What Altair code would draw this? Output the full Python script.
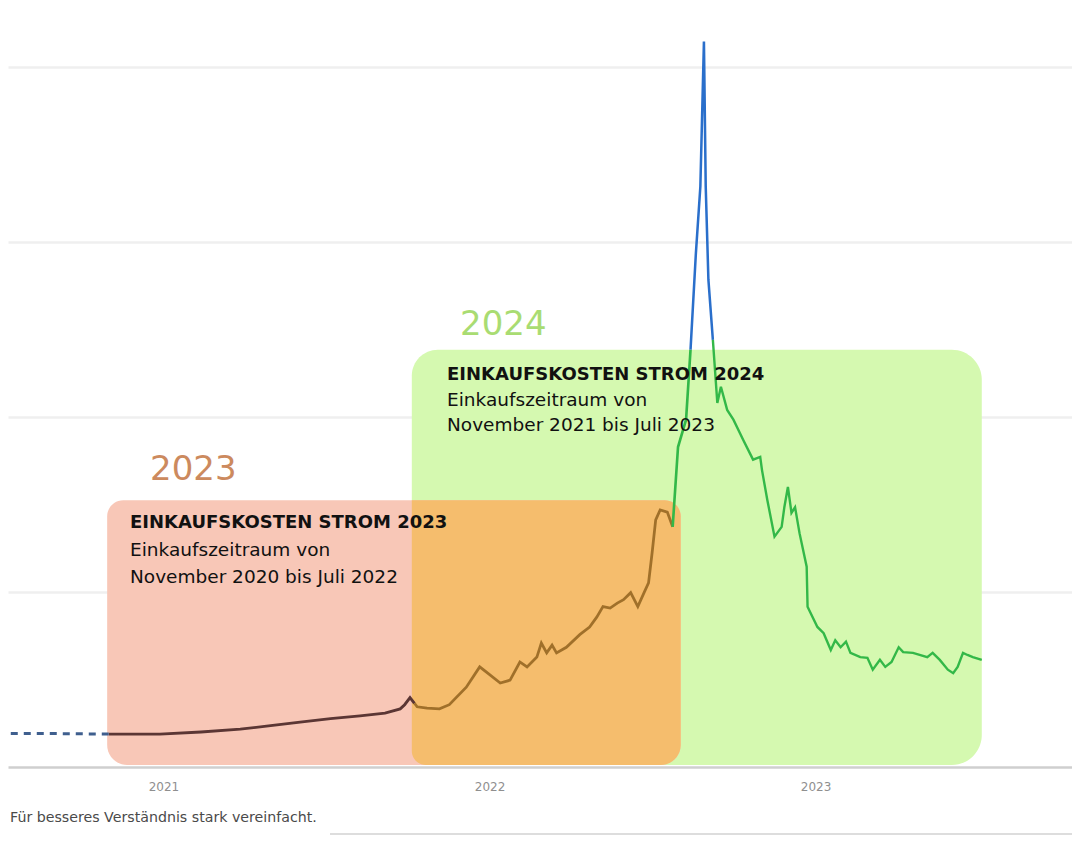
import altair as alt
import pandas as pd

# ---- line data (price, EUR/MWh) ----
vor_dates = ["2020-06-15", "2020-08-15", "2020-11-01"]
vor_values = [48, 48, 47]

s2023_dates = ["2020-12-28", "2021-02-12", "2021-03-28", "2021-05-01", "2021-06-03", "2021-07-07",
               "2021-08-09", "2021-09-06", "2021-09-23", "2021-09-28", "2021-10-04", "2021-10-09"]
s2023_values = [47, 50, 54, 59, 64, 69, 73, 77, 83, 89, 99, 91]

beide_dates = ["2021-10-12", "2021-10-23", "2021-11-06", "2021-11-17", "2021-12-06", "2021-12-21",
               "2021-12-30", "2022-01-13", "2022-01-24", "2022-02-04", "2022-02-12", "2022-02-23",
               "2022-02-28", "2022-03-06", "2022-03-12", "2022-03-17", "2022-03-28", "2022-04-12",
               "2022-04-23", "2022-05-01", "2022-05-08", "2022-05-16", "2022-05-24", "2022-05-31",
               "2022-06-08", "2022-06-16", "2022-06-23", "2022-06-28", "2022-07-02", "2022-07-06",
               "2022-07-11", "2022-07-19", "2022-07-25"]
beide_values = [86, 84, 83, 89, 114, 143, 134, 120, 124, 150, 143, 157, 177, 163, 174, 163, 171, 189,
                200, 214, 229, 227, 234, 239, 249, 229, 249, 263, 306, 353, 367, 364, 343]

s2024a_dates = ["2022-07-31", "2022-08-09", "2022-08-14"]
s2024a_values = [457, 496, 596]

spitze_dates = ["2022-08-20", "2022-08-25", "2022-08-29", "2022-08-31", "2022-09-03", "2022-09-08"]
spitze_values = [734, 829, 1036, 829, 696, 610]

s2024b_dates = ["2022-09-13", "2022-09-17", "2022-09-24", "2022-10-01", "2022-10-12", "2022-10-23",
                "2022-10-31", "2022-11-02", "2022-11-08", "2022-11-16", "2022-11-24", "2022-11-27",
                "2022-12-01", "2022-12-05", "2022-12-09", "2022-12-14", "2022-12-22", "2022-12-23",
                "2023-01-03", "2023-01-10", "2023-01-18", "2023-01-23", "2023-01-29", "2023-02-04",
                "2023-02-09", "2023-02-20", "2023-02-28", "2023-03-06", "2023-03-14", "2023-03-20",
                "2023-03-27", "2023-04-04", "2023-04-09", "2023-04-20", "2023-05-06", "2023-05-12",
                "2023-05-20", "2023-05-29", "2023-06-04", "2023-06-09", "2023-06-15", "2023-06-20",
                "2023-06-26", "2023-07-06"]
s2024b_values = [520, 543, 510, 496, 467, 439, 443, 424, 381, 329, 343, 371, 400, 363, 371, 334, 286,
                 229, 200, 191, 167, 181, 171, 179, 163, 157, 156, 139, 153, 143, 150, 171, 164, 163,
                 157, 163, 153, 139, 134, 143, 163, 160, 157, 153]

segment_names = ["vor", "2023", "beide", "2024a", "spitze", "2024b"]
segment_dates = [vor_dates, s2023_dates, beide_dates, s2024a_dates, spitze_dates, s2024b_dates]
segment_values = [vor_values, s2023_values, beide_values, s2024a_values, spitze_values, s2024b_values]
segment_colors = ["#3f5f8e", "#5b3634", "#a0702a", "#33b848", "#2a6fcb", "#33b848"]
segment_widths = [3, 2.4, 2.4, 2.4, 3.4, 2.4]

# ---- purchase-period boxes ----
box_names = ["2024", "2023", "overlap"]
box_start = ["2021-10-06", "2020-10-30", "2021-10-06"]
box_end = ["2023-07-06", "2022-08-03", "2022-08-03"]
box_top = [596, 381, 381]

# build the line table; each segment starts with the last point of the previous one
rows = []
prev = None
for name, ds, vs in zip(segment_names, segment_dates, segment_values):
    if prev is not None:
        rows.append({"date": prev[0], "value": prev[1], "seg": name})
    for d, v in zip(ds, vs):
        rows.append({"date": d, "value": v, "seg": name})
    prev = (ds[-1], vs[-1])
line_df = pd.DataFrame(rows)

box_df = pd.DataFrame({"box": box_names, "start": box_start, "end": box_end, "top": box_top})

W, H = 1064, 759
x_scale = alt.Scale(domain=["2020-07-11", "2023-10-15"])
y_scale = alt.Scale(domain=[0, 1084], nice=False)

x_axis = alt.Axis(
    values=[alt.DateTime(year=2021, month=1, date=1),
            alt.DateTime(year=2022, month=1, date=1),
            alt.DateTime(year=2023, month=1, date=1)],
    format="%Y", title=None, grid=False, ticks=False,
    domainColor="#cfcfcf", domainWidth=2.5,
    labelColor="#8f8f8f", labelFontSize=12, labelPadding=14,
)
y_axis = alt.Axis(values=[250, 500, 750, 1000], labels=False, ticks=False, domain=False,
                  title=None, gridColor="#efefef", gridWidth=2.5)

base_box = alt.Chart(box_df)

green_box = base_box.transform_filter(alt.datum.box == "2024").mark_rect(
    color="#d5f9b0", cornerRadiusTopLeft=26, cornerRadiusTopRight=30,
    cornerRadiusBottomRight=30, cornerRadiusBottomLeft=14,
).encode(
    x=alt.X("start:T", scale=x_scale, axis=x_axis),
    x2="end:T",
    y=alt.Y("top:Q", scale=y_scale, axis=y_axis),
    y2=alt.datum(3),
)
red_box = base_box.transform_filter(alt.datum.box == "2023").mark_rect(
    color="#f8c7b7", cornerRadiusTopLeft=16, cornerRadiusTopRight=16,
    cornerRadiusBottomRight=20, cornerRadiusBottomLeft=20,
).encode(x="start:T", x2="end:T", y="top:Q", y2=alt.datum(3))
overlap_box = base_box.transform_filter(alt.datum.box == "overlap").mark_rect(
    color="#f5bd6d", cornerRadiusTopRight=16, cornerRadiusBottomRight=20,
    cornerRadiusBottomLeft=14,
).encode(x="start:T", x2="end:T", y="top:Q", y2=alt.datum(3))

color_scale = alt.Scale(domain=segment_names, range=segment_colors)
width_scale = alt.Scale(domain=segment_names, range=segment_widths)

dashed = alt.Chart(line_df).transform_filter(alt.datum.seg == "vor").mark_line(
    strokeWidth=3, strokeDash=[7, 6], clip=True
).encode(
    x="date:T", y="value:Q",
    color=alt.Color("seg:N", scale=color_scale, legend=None),
    detail="seg:N",
)
solid = alt.Chart(line_df).transform_filter(alt.datum.seg != "vor").mark_line(
    clip=True
).encode(
    x="date:T", y="value:Q",
    color=alt.Color("seg:N", scale=color_scale, legend=None),
    strokeWidth=alt.StrokeWidth("seg:N", scale=width_scale, legend=None),
    detail="seg:N",
)

FONT = "DejaVu Sans"

def txt(text, x, y, size, color="#111111", weight="normal", align="left"):
    return alt.Chart(pd.DataFrame({"t": [text]})).mark_text(
        align=align, baseline="middle", fontSize=size, font=FONT, fontWeight=weight, color=color
    ).encode(text="t:N", x=alt.value(x), y=alt.value(y))

texts = [
    txt("2023", 142, 462, 34, color="#cc8a5e"),
    txt("2024", 452, 317, 34, color="#a9dc72"),
    txt("EINKAUFSKOSTEN STROM 2023", 122, 515, 18, weight="bold"),
    txt("Einkaufszeitraum von", 122, 542, 18.5),
    txt("November 2020 bis Juli 2022", 122, 569, 18.5),
    txt("EINKAUFSKOSTEN STROM 2024", 439, 367, 18, weight="bold"),
    txt("Einkaufszeitraum von", 439, 392, 18.5),
    txt("November 2021 bis Juli 2023", 439, 417, 18.5),
    txt("Für besseres Verständnis stark vereinfacht.", 2, 810, 14.2, color="#4a4a4a"),
]

separator = alt.Chart(pd.DataFrame({"a": [0]})).mark_rule(color="#dddddd", strokeWidth=2).encode(
    x=alt.value(322), x2=alt.value(1072), y=alt.value(826)
)

chart = alt.layer(
    green_box, red_box, overlap_box, dashed, solid, *texts, separator
).properties(
    width=W, height=H,
    autosize=alt.AutoSizeParams(type="none"),
    padding={"left": 0, "right": 0, "top": 0, "bottom": 70},
).configure(font=FONT).configure_view(stroke=None, strokeWidth=0)

chart.save("out.html", embed_options={"renderer": "svg", "actions": False})
